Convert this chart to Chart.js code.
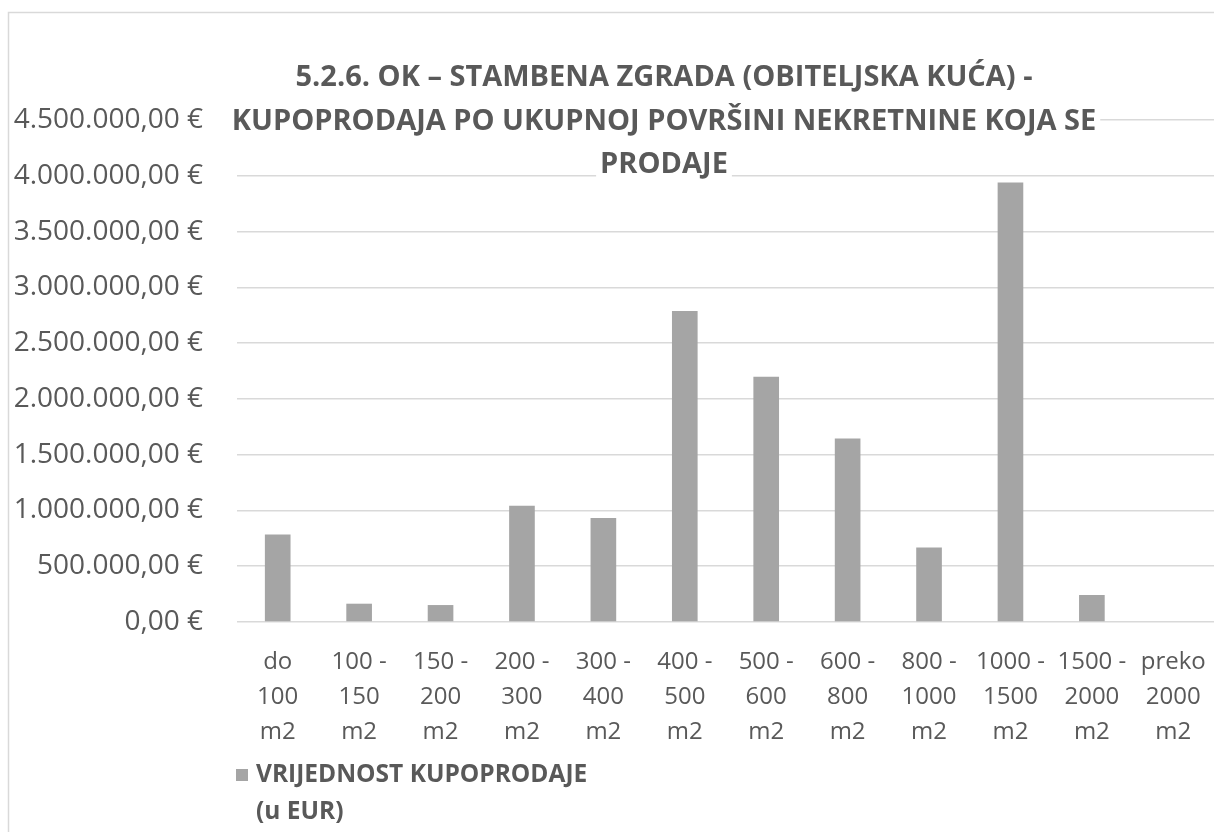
<!DOCTYPE html>
<html>
<head>
<meta charset="utf-8">
<script src="https://cdn.jsdelivr.net/npm/chart.js@4/dist/chart.umd.min.js"></script>
<style>
  html, body { margin: 0; padding: 0; background: #ffffff; }
  #wrap { width: 1214px; height: 832px; position: relative; overflow: hidden; }
</style>
</head>
<body>
<div id="wrap"><canvas id="c" width="1214" height="832"></canvas></div>
<script>
// ---- data ----
const categories = [
  ["do", "100", "m2"],
  ["100 -", "150", "m2"],
  ["150 -", "200", "m2"],
  ["200 -", "300", "m2"],
  ["300 -", "400", "m2"],
  ["400 -", "500", "m2"],
  ["500 -", "600", "m2"],
  ["600 -", "800", "m2"],
  ["800 -", "1000", "m2"],
  ["1000 -", "1500", "m2"],
  ["1500 -", "2000", "m2"],
  ["preko", "2000", "m2"]
];
const values = [784000, 164000, 152000, 1041000, 933000, 2788000, 2199000, 1645000, 667000, 3940000, 242000, 0];
const seriesName = "VRIJEDNOST KUPOPRODAJE (u EUR)";
const legendLines = ["VRIJEDNOST KUPOPRODAJE", "(u EUR)"];
const titleLines = [
  "5.2.6. OK \u2013 STAMBENA ZGRADA (OBITELJSKA KU\u0106A) -",
  "KUPOPRODAJA PO UKUPNOJ POVR\u0160INI NEKRETNINE KOJA SE",
  "PRODAJE"
];
const yMin = 0, yMax = 4500000, yStep = 500000;

// ---- styling ----
const FONT = '"Open Sans", "Noto Sans", sans-serif';
const TEXT = '#595959';
const BAR = '#a5a5a5';
const GRID = '#d9d9d9';

function fmtEUR(v) {
  const s = Math.round(v).toString().replace(/\B(?=(\d{3})+(?!\d))/g, '.');
  return s + ',00 \u20AC';
}

const decorPlugin = {
  id: 'decor',
  beforeDraw(chart) {
    const ctx = chart.ctx;
    ctx.save();
    ctx.fillStyle = '#ffffff';
    ctx.fillRect(0, 0, chart.width, chart.height);
    ctx.strokeStyle = GRID;
    ctx.lineWidth = 1.5;
    ctx.strokeRect(8.5, 12.5, 1400, 1000);
    ctx.restore();
  },
  afterDraw(chart) {
    const ctx = chart.ctx;
    ctx.save();
    // title
    ctx.font = 'bold 29px ' + FONT;
    ctx.textAlign = 'center';
    ctx.textBaseline = 'middle';
    const cx = 664;
    const ys = [78, 122, 165];
    titleLines.forEach((t, i) => {
      const w = ctx.measureText(t).width;
      ctx.fillStyle = '#ffffff';
      ctx.fillRect(cx - w / 2 - 4, ys[i] - 18, w + 8, 34);
      ctx.fillStyle = TEXT;
      ctx.fillText(t, cx, ys[i]);
    });
    // legend
    ctx.fillStyle = chart.data.datasets[0].backgroundColor;
    ctx.fillRect(236, 769, 12, 12);
    ctx.font = 'bold 24.5px ' + FONT;
    ctx.textAlign = 'left';
    ctx.fillStyle = TEXT;
    ctx.fillText(legendLines[0], 256, 775);
    ctx.fillText(legendLines[1], 256, 812);
    ctx.restore();
  }
};

function build() {
  new Chart(document.getElementById('c'), {
    type: 'bar',
    data: {
      labels: categories,
      datasets: [{
        label: seriesName,
        data: values,
        backgroundColor: BAR,
        borderWidth: 0,
        categoryPercentage: 1.0,
        barPercentage: 0.315
      }]
    },
    options: {
      responsive: false,
      animation: false,
      layout: { padding: { top: 120, right: 0, bottom: 0, left: 0 } },
      plugins: {
        legend: { display: false },
        title: { display: false },
        tooltip: { enabled: false }
      },
      scales: {
        x: {
          grid: { display: false, drawTicks: false },
          border: { display: false },
          ticks: {
            font: { family: FONT, size: 24, lineHeight: 35 / 24 },
            color: TEXT,
            padding: 23,
            maxRotation: 0,
            minRotation: 0,
            autoSkip: false
          },
          afterFit(s) { s.height = 210; s.paddingLeft = 0; s.paddingRight = 0; }
        },
        y: {
          min: yMin,
          max: yMax,
          ticks: {
            stepSize: yStep,
            callback: (v) => fmtEUR(v),
            font: { family: FONT, size: 28 },
            color: TEXT,
            padding: 34
          },
          grid: { color: GRID, lineWidth: 1.5, drawTicks: false },
          border: { display: false },
          afterFit(s) { s.width = 237; s.paddingTop = 0; s.paddingBottom = 0; }
        }
      }
    },
    plugins: [decorPlugin]
  });
}

Promise.all([
  document.fonts.load('24px "Open Sans"'),
  document.fonts.load('bold 24px "Open Sans"')
]).then(build, build);
</script>
</body>
</html>
